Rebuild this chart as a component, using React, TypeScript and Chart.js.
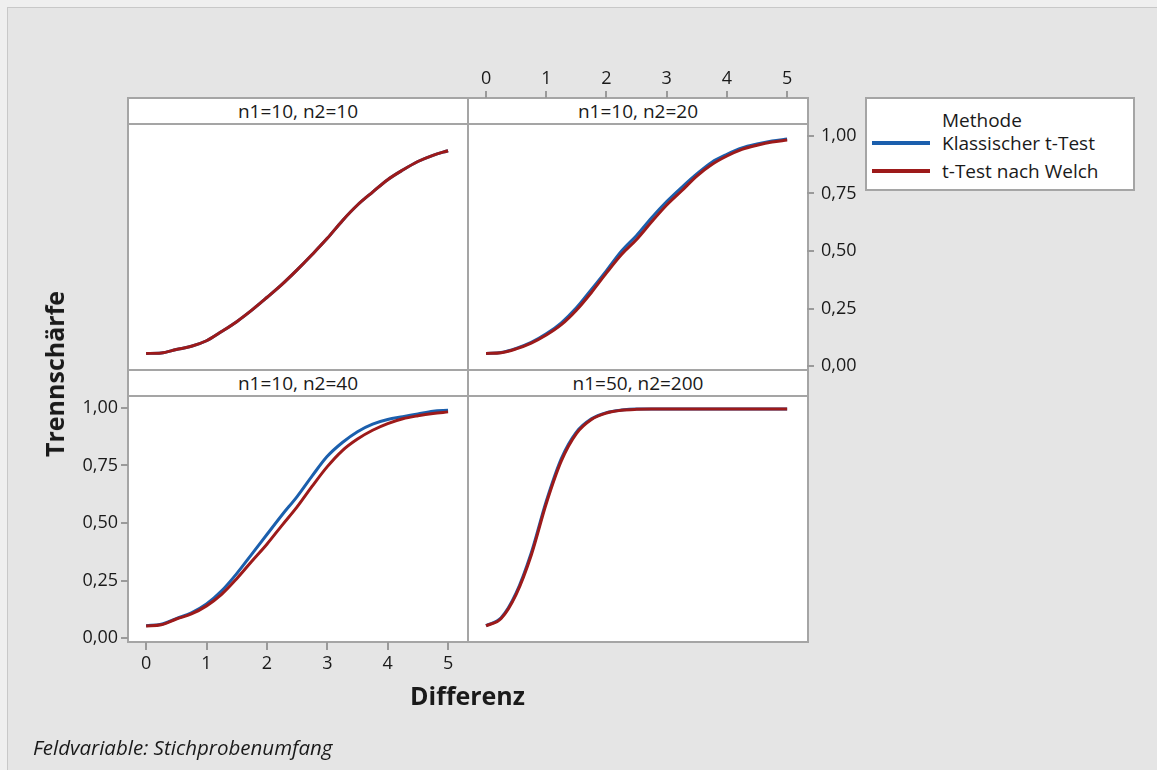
import React, { useEffect, useRef } from "react";
import { Chart, registerables } from "chart.js";

Chart.register(...registerables);

// ---------- data ----------
const DIFFERENZ = [0, 0.25, 0.5, 0.75, 1, 1.25, 1.5, 1.75, 2, 2.25, 2.5, 2.75, 3, 3.25, 3.5, 3.75, 4, 4.25, 4.5, 4.75, 5];

const KLASSISCH_10_10 = [0.055, 0.057, 0.072, 0.086, 0.11, 0.15, 0.193, 0.243, 0.298, 0.355, 0.418, 0.485, 0.555, 0.632, 0.7, 0.756, 0.81, 0.852, 0.889, 0.916, 0.936];
const WELCH_10_10 = [0.055, 0.057, 0.072, 0.086, 0.11, 0.15, 0.193, 0.243, 0.298, 0.355, 0.418, 0.485, 0.555, 0.632, 0.7, 0.756, 0.81, 0.852, 0.889, 0.916, 0.936];

const KLASSISCH_10_20 = [0.055, 0.059, 0.077, 0.103, 0.14, 0.188, 0.253, 0.333, 0.415, 0.5, 0.568, 0.645, 0.715, 0.777, 0.835, 0.886, 0.92, 0.948, 0.965, 0.978, 0.987];
const WELCH_10_20 = [0.055, 0.058, 0.075, 0.1, 0.135, 0.18, 0.243, 0.32, 0.405, 0.485, 0.55, 0.627, 0.7, 0.762, 0.826, 0.876, 0.913, 0.942, 0.96, 0.974, 0.982];

const KLASSISCH_10_40 = [0.054, 0.06, 0.085, 0.11, 0.148, 0.205, 0.28, 0.365, 0.45, 0.535, 0.615, 0.705, 0.79, 0.85, 0.897, 0.93, 0.95, 0.962, 0.974, 0.986, 0.99];
const WELCH_10_40 = [0.053, 0.058, 0.083, 0.105, 0.14, 0.19, 0.258, 0.334, 0.408, 0.49, 0.57, 0.66, 0.745, 0.815, 0.865, 0.903, 0.932, 0.953, 0.966, 0.976, 0.983];

const KLASSISCH_50_200 = [0.054, 0.088, 0.196, 0.37, 0.595, 0.78, 0.895, 0.953, 0.98, 0.991, 0.995, 0.995, 0.995, 0.995, 0.995, 0.995, 0.995, 0.995, 0.995, 0.995, 0.995];
const WELCH_50_200 = [0.053, 0.085, 0.19, 0.36, 0.585, 0.77, 0.889, 0.95, 0.978, 0.99, 0.994, 0.995, 0.995, 0.995, 0.995, 0.995, 0.995, 0.995, 0.995, 0.995, 0.995];

const X_TICKS = [0, 1, 2, 3, 4, 5];
const Y_TICKS = [0, 0.25, 0.5, 0.75, 1];

const PANEL_TITLES = ["n1=10, n2=10", "n1=10, n2=20", "n1=10, n2=40", "n1=50, n2=200"];
const METHODS = ["Klassischer t-Test", "t-Test nach Welch"];
const LEGEND_TITLE = "Methode";
const X_TITLE = "Differenz";
const Y_TITLE = "Trennschärfe";
const FOOTNOTE = "Feldvariable: Stichprobenumfang";

// ---------- style ----------
const COLORS = ["#1b5fad", "#9d1a1a"];
const FONT = "'Open Sans', 'Noto Sans', sans-serif";
const TEXT = "#1a1a1a";
const FRAME = "#a5a5a5";
const W = 1157;
const H = 770;
const X_MIN = -0.3;
const X_MAX = 5.33;
const Y_MIN = -0.017;
const Y_MAX = 1.052;
const Y_MAX_WITH_STRIP = 1.165;
const TICK_SIZE = 18;

type AxisSpec = { display: boolean; position?: string; size?: number; tickLength?: number; padding?: number };

function fmtY(v: number) {
  return Number(v).toFixed(2).replace(".", ",");
}

function makeX(spec: AxisSpec) {
  const s: any = {
    type: "linear",
    min: X_MIN,
    max: X_MAX,
    display: spec.display,
    position: spec.position || "bottom",
    afterBuildTicks: (sc: any) => {
      sc.ticks = X_TICKS.map((v) => ({ value: v }));
    },
    grid: { drawOnChartArea: false, drawTicks: true, tickLength: spec.tickLength ?? 8, color: "#9a9a9a", lineWidth: 2 },
    border: { display: false },
    ticks: {
      font: { family: FONT, size: TICK_SIZE },
      color: TEXT,
      padding: spec.padding ?? 3,
      maxRotation: 0,
      autoSkip: false,
      callback: (v: any) => String(v),
    },
  };
  if (spec.display) s.afterFit = (sc: any) => { sc.height = spec.size; };
  return s;
}

function makeY(spec: AxisSpec, max: number) {
  const s: any = {
    type: "linear",
    min: Y_MIN,
    max,
    display: spec.display,
    position: spec.position || "left",
    afterBuildTicks: (sc: any) => {
      sc.ticks = Y_TICKS.map((v) => ({ value: v }));
    },
    grid: { drawOnChartArea: false, drawTicks: true, tickLength: spec.tickLength ?? 7, color: "#9a9a9a", lineWidth: 2 },
    border: { display: false },
    ticks: {
      font: { family: FONT, size: TICK_SIZE },
      color: TEXT,
      padding: spec.padding ?? 3,
      autoSkip: false,
      callback: (v: any) => fmtY(v),
    },
  };
  if (spec.display) s.afterFit = (sc: any) => { sc.width = spec.size; };
  return s;
}

type PanelProps = {
  klass: number[];
  welch: number[];
  padding: { left: number; right: number; top: number; bottom: number };
  x: AxisSpec;
  y: AxisSpec;
  yMax: number;
};

function PanelChart(props: PanelProps) {
  const ref = useRef<HTMLCanvasElement>(null);
  useEffect(() => {
    const mk = (vals: number[], i: number) => ({
      label: METHODS[i],
      data: DIFFERENZ.map((d, k) => ({ x: d, y: vals[k] })),
      borderColor: COLORS[i],
      backgroundColor: COLORS[i],
      borderWidth: 3,
      pointRadius: 0,
      cubicInterpolationMode: "monotone" as const,
      fill: false,
      order: i === 0 ? 1 : 0, // Welch drawn on top
    });
    const chart = new Chart(ref.current as HTMLCanvasElement, {
      type: "line",
      data: { datasets: [mk(props.klass, 0), mk(props.welch, 1)] },
      options: {
        responsive: false,
        animation: false,
        devicePixelRatio: 1,
        layout: { padding: props.padding },
        plugins: { legend: { display: false }, tooltip: { enabled: false }, title: { display: false } },
        events: [],
        scales: {
          x: makeX(props.x),
          y: makeY(props.y, props.yMax),
        },
      } as any,
    });
    return () => chart.destroy();
  }, []);
  return (
    <canvas
      ref={ref}
      width={W}
      height={H}
      style={{ position: "absolute", left: 0, top: 0, width: W, height: H, pointerEvents: "none", zIndex: 2 }}
    />
  );
}

function PanelBox({ left, top, width, title }: { left: number; top: number; width: number; title: string }) {
  return (
    <div
      style={{
        position: "absolute",
        left,
        top,
        width,
        height: 274,
        border: `2px solid ${FRAME}`,
        boxSizing: "border-box",
        background: "#ffffff",
        zIndex: 1,
      }}
    >
      <div
        style={{
          height: 24,
          borderBottom: `2px solid ${FRAME}`,
          textAlign: "center",
          lineHeight: "24px",
          fontFamily: FONT,
          fontSize: 19,
          color: TEXT,
          whiteSpace: "nowrap",
        }}
      >
        {title}
      </div>
    </div>
  );
}

export default function App() {
  return (
    <div style={{ position: "fixed", left: 0, top: 0, width: W, height: H, background: "#efefef", overflow: "hidden" }}>
      <div
        style={{
          position: "absolute",
          left: 7,
          top: 7,
          width: W - 7,
          height: H - 7,
          borderLeft: "1px solid #c8c8c8",
          borderTop: "1px solid #c8c8c8",
          boxSizing: "border-box",
          background: "#e5e5e5",
        }}
      />
      <PanelBox left={127} top={97} width={342} title={PANEL_TITLES[0]} />
      <PanelBox left={467} top={97} width={342} title={PANEL_TITLES[1]} />
      <PanelBox left={127} top={369} width={342} title={PANEL_TITLES[2]} />
      <PanelBox left={467} top={369} width={342} title={PANEL_TITLES[3]} />

      <PanelChart
        klass={KLASSISCH_10_10}
        welch={WELCH_10_10}
        padding={{ left: 128, right: W - 468, top: 124, bottom: H - 370 }}
        x={{ display: false }}
        y={{ display: false }}
        yMax={Y_MAX}
      />
      <PanelChart
        klass={KLASSISCH_10_20}
        welch={WELCH_10_20}
        padding={{ left: 468, right: W - 807 - 70, top: 98 - 40, bottom: H - 370 }}
        x={{ display: true, position: "top", size: 40, tickLength: 7, padding: 1 }}
        y={{ display: true, position: "right", size: 70, tickLength: 7, padding: 7 }}
        yMax={Y_MAX_WITH_STRIP}
      />
      <PanelChart
        klass={KLASSISCH_10_40}
        welch={WELCH_10_40}
        padding={{ left: 128 - 60, right: W - 468, top: 396, bottom: H - 642 - 40 }}
        x={{ display: true, position: "bottom", size: 40, tickLength: 8, padding: 3 }}
        y={{ display: true, position: "left", size: 60, tickLength: 7, padding: 3 }}
        yMax={Y_MAX}
      />
      <PanelChart
        klass={KLASSISCH_50_200}
        welch={WELCH_50_200}
        padding={{ left: 468, right: W - 807, top: 396, bottom: H - 642 }}
        x={{ display: false }}
        y={{ display: false }}
        yMax={Y_MAX}
      />

      {/* legend */}
      <div
        style={{
          position: "absolute",
          left: 865,
          top: 97,
          width: 270,
          height: 94,
          border: `2px solid ${FRAME}`,
          boxSizing: "border-box",
          background: "#fff",
          zIndex: 3,
          fontFamily: FONT,
          fontSize: 19,
          color: TEXT,
        }}
      >
        <div style={{ position: "absolute", left: 75, top: 9, lineHeight: "24px", whiteSpace: "nowrap" }}>{LEGEND_TITLE}</div>
        {METHODS.map((m, i) => (
          <React.Fragment key={m}>
            <div
              style={{
                position: "absolute",
                left: 5,
                top: 44 - 2 + i * 28,
                width: 58,
                height: 4,
                background: COLORS[i],
              }}
            />
            <div style={{ position: "absolute", left: 75, top: 44 - 12 + i * 28, lineHeight: "24px", whiteSpace: "nowrap" }}>{m}</div>
          </React.Fragment>
        ))}
      </div>

      {/* axis titles */}
      <div
        style={{
          position: "absolute",
          left: 467.5,
          top: 695,
          transform: "translate(-50%, -50%)",
          fontFamily: FONT,
          fontWeight: 700,
          fontSize: 25,
          color: TEXT,
          whiteSpace: "nowrap",
          zIndex: 3,
        }}
      >
        {X_TITLE}
      </div>
      <div
        style={{
          position: "absolute",
          left: 54,
          top: 374,
          transform: "translate(-50%, -50%) rotate(-90deg)",
          fontFamily: FONT,
          fontWeight: 700,
          fontSize: 25,
          color: TEXT,
          whiteSpace: "nowrap",
          zIndex: 3,
        }}
      >
        {Y_TITLE}
      </div>
      <div
        style={{
          position: "absolute",
          left: 33,
          top: 747,
          transform: "translate(0, -50%)",
          fontFamily: FONT,
          fontStyle: "italic",
          fontSize: 20.5,
          color: TEXT,
          whiteSpace: "nowrap",
          zIndex: 3,
        }}
      >
        {FOOTNOTE}
      </div>
    </div>
  );
}
